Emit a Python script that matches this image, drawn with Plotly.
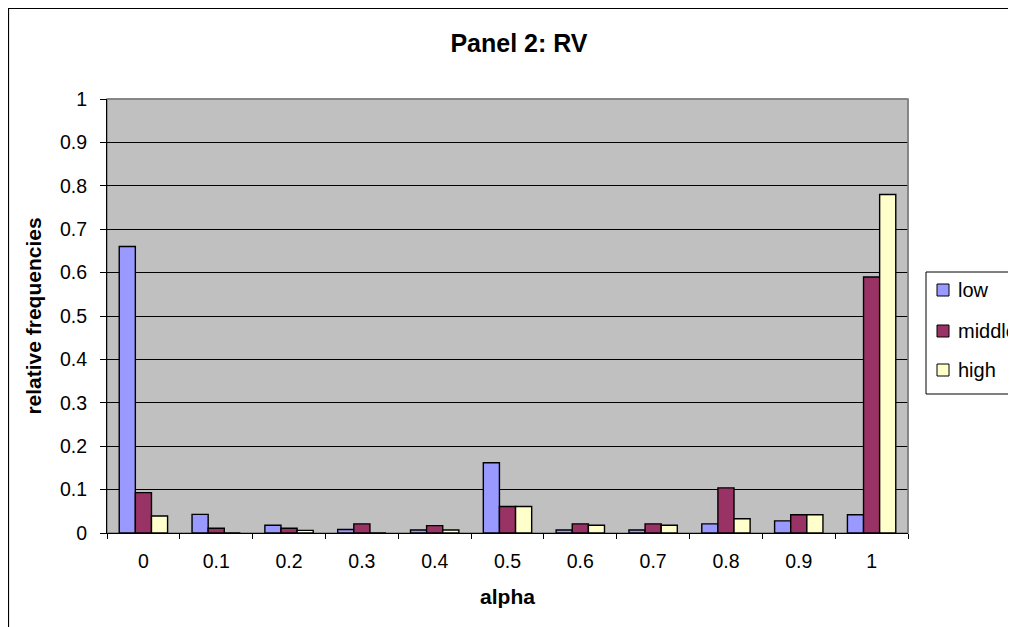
import plotly.graph_objects as go

categories = ["0", "0.1", "0.2", "0.3", "0.4", "0.5", "0.6", "0.7", "0.8", "0.9", "1"]
low = [0.66, 0.043, 0.018, 0.008, 0.007, 0.162, 0.007, 0.007, 0.021, 0.028, 0.042]
middle = [0.093, 0.011, 0.011, 0.021, 0.017, 0.061, 0.021, 0.021, 0.104, 0.042, 0.59]
high = [0.039, 0.0, 0.006, 0.0, 0.007, 0.061, 0.018, 0.018, 0.033, 0.042, 0.78]
y_ticks = [0, 0.1, 0.2, 0.3, 0.4, 0.5, 0.6, 0.7, 0.8, 0.9, 1]
series_names = ["low", "middle", "high"]
series_colors = ["#9999FF", "#993366", "#FFFFCC"]
series_values = [low, middle, high]

# layout geometry (figure pixels)
W, H = 1016, 627
L, T, PW, PH = 99, 91, 801, 434
R, B = W - L - PW, H - T - PH

def px(xpix):
    return (xpix - L) / PW

def py(ypix):
    return (T + PH - ypix) / PH

fig = go.Figure()
for name, vals, col in zip(series_names, series_values, series_colors):
    fig.add_trace(go.Bar(
        x=categories, y=vals, name=name, showlegend=False,
        marker=dict(color=col, line=dict(color="black", width=1.4)),
    ))

font = "Liberation Sans, Arial, sans-serif"
fig.update_layout(
    width=W, height=H,
    margin=dict(l=L, r=R, t=T, b=B, autoexpand=False),
    paper_bgcolor="white", plot_bgcolor="#C0C0C0",
    barmode="group", bargap=0.336, bargroupgap=0,
    font=dict(family=font, size=19.5, color="black"),
    title=dict(text="<b>Panel 2: RV</b>", x=px(511), xanchor="center", xref="paper",
               y=1 - 35 / H, yref="container", yanchor="middle",
               font=dict(size=25, family=font, color="black")),
    showlegend=False,
    xaxis=dict(
        title=dict(text="<b>alpha</b>", font=dict(size=21, family=font), standoff=17),
        type="category", showline=True, linecolor="black", linewidth=1,
        ticks="outside", tickson="boundaries", ticklen=5, tickcolor="black",
        ticklabelstandoff=11,
        showgrid=False, tickfont=dict(size=19.5, family=font),
    ),
    yaxis=dict(
        title=dict(text="<b>relative frequencies</b>", font=dict(size=21, family=font), standoff=12),
        range=[0, 1], tickvals=y_ticks, ticktext=[f"{v:g}" for v in y_ticks],
        showline=True, linecolor="black", linewidth=1,
        ticks="outside", ticklen=6, tickcolor="black", ticklabelstandoff=9,
        showgrid=True, gridcolor="black", gridwidth=1,
        zeroline=False, tickfont=dict(size=19.5, family=font),
    ),
)

# plot-area frame (gray) and outer chart border
fig.add_shape(type="rect", xref="paper", yref="paper", x0=0, y0=0, x1=1, y1=1,
              line=dict(color="#808080", width=1.5), layer="below")
fig.add_shape(type="line", xref="paper", yref="paper", x0=0, x1=1, y0=1, y1=1,
              line=dict(color="#808080", width=1.5))
fig.add_shape(type="line", xref="paper", yref="paper", x0=1, x1=1, y0=0, y1=1,
              line=dict(color="#808080", width=1.5))
fig.add_shape(type="rect", xref="paper", yref="paper",
              x0=px(0.5), x1=px(W + 20), y0=py(H + 20), y1=py(0.5),
              line=dict(color="black", width=1.2))

# legend box (clipped at the right edge like the reference)
fig.add_shape(type="rect", xref="paper", yref="paper",
              x0=px(918), x1=px(W + 20), y0=py(386), y1=py(264),
              line=dict(color="black", width=1), fillcolor="white")
item_y = [282, 323, 362]
for name, col, yc in zip(series_names, series_colors, item_y):
    fig.add_shape(type="rect", xref="paper", yref="paper",
                  x0=px(929), x1=px(941), y0=py(yc + 6), y1=py(yc - 6),
                  line=dict(color="black", width=1), fillcolor=col)
    fig.add_annotation(text=name, xref="paper", yref="paper", x=px(948), y=py(yc),
                       xanchor="left", yanchor="middle", showarrow=False,
                       font=dict(size=20, family=font, color="black"))

fig.write_html("out.html")
